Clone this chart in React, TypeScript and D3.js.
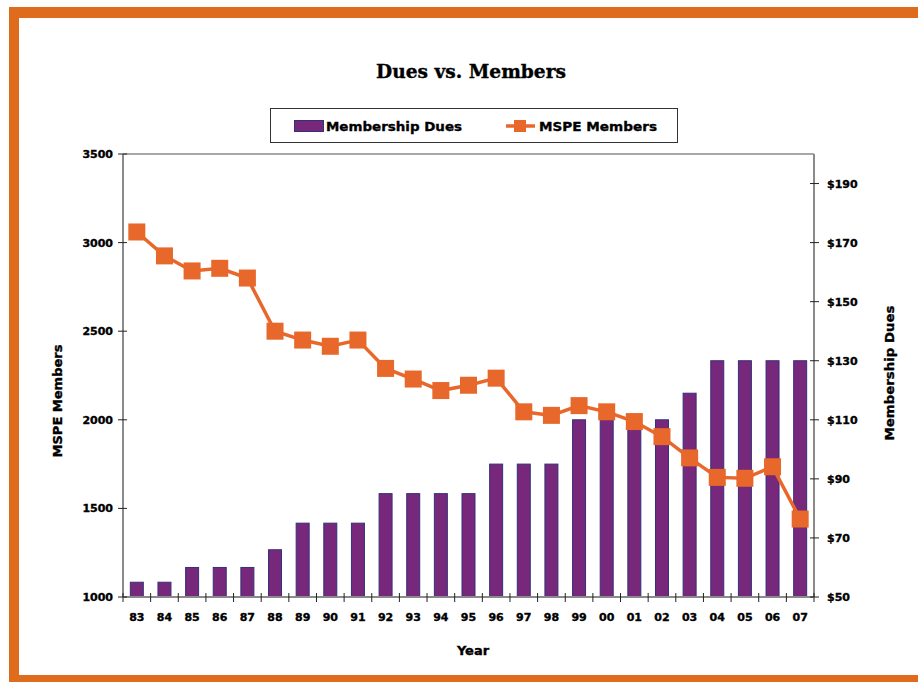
import React from "react";
import * as d3 from "d3";

const years = ["83","84","85","86","87","88","89","90","91","92","93","94","95","96","97","98","99","00","01","02","03","04","05","06","07"];
const duesValues = [55,55,60,60,60,66,75,75,75,85,85,85,85,95,95,95,110,110,110,110,119,130,130,130,130];
const memberValues = [3060,2925,2840,2855,2800,2500,2450,2415,2450,2290,2230,2165,2195,2235,2045,2025,2080,2045,1990,1905,1785,1675,1670,1735,1440];
const leftTicks = [1000,1500,2000,2500,3000,3500];
const rightTicks = [50,70,90,110,130,150,170,190];
const rightTickLabels = ["$50","$70","$90","$110","$130","$150","$170","$190"];

const W = 918, H = 682;
const L = 123, R = 814, T = 154, B = 597;
const ORANGE = "#DF6C1D";
const LINE = "#E8672A";
const PURPLE = "#77287A";
const BAR_STROKE = "#33307A";
const AXIS = "#8a8a8a";
const FONT = "'DejaVu Sans', sans-serif";
const heavy = { stroke: "#000", strokeWidth: 0.35 };

export default function App() {
  const x = d3.scaleBand<string>().domain(years).range([L, R]);
  const step = x.step();
  const barW = step * 0.47;
  const yL = d3.scaleLinear().domain([1000, 3500]).range([B, T]);
  const yR = d3.scaleLinear().domain([50, 200]).range([B, T]);
  const cx = (y: string) => (x(y) as number) + step / 2;
  const line = d3.line<number>().x((_, i) => cx(years[i])).y((d) => yL(d));

  return (
    <svg width={W} height={H} style={{ position: "absolute", left: 0, top: 0, background: "#fff" }}>
      <rect x={0} y={0} width={W} height={H} fill="#fff" />
      {/* orange frame */}
      <rect x={9} y={7} width={W - 9} height={11} fill={ORANGE} />
      <rect x={9} y={7} width={10} height={H - 7} fill={ORANGE} />
      <rect x={9} y={675} width={W - 9} height={7} fill={ORANGE} />

      {/* title */}
      <text x={471} y={78} textAnchor="middle" fontFamily="'DejaVu Serif', serif" fontWeight="bold" fontSize={18} textLength={190} lengthAdjust="spacingAndGlyphs" {...heavy}>Dues vs. Members</text>

      {/* legend */}
      <rect x={270.5} y={108.5} width={407} height={34} fill="#fff" stroke="#333" strokeWidth={1} />
      <rect x={294.5} y={120.5} width={29} height={11} fill={PURPLE} stroke={BAR_STROKE} strokeWidth={1} />
      <text x={326} y={131} fontFamily={FONT} fontWeight="bold" fontSize={13} textLength={136} lengthAdjust="spacingAndGlyphs" {...heavy}>Membership Dues</text>
      <line x1={506} x2={535} y1={126} y2={126} stroke={LINE} strokeWidth={3.5} />
      <rect x={514} y={120} width={12} height={12} fill={LINE} />
      <text x={539} y={131} fontFamily={FONT} fontWeight="bold" fontSize={13} textLength={118} lengthAdjust="spacingAndGlyphs" {...heavy}>MSPE Members</text>

      {/* bars */}
      {duesValues.map((v, i) => (
        <rect key={years[i]} x={cx(years[i]) - barW / 2} y={yR(v)} width={barW} height={B - yR(v)}
          fill={PURPLE} stroke={BAR_STROKE} strokeWidth={1} />
      ))}

      {/* plot border / axes */}
      <line x1={L} x2={R} y1={T} y2={T} stroke={AXIS} strokeWidth={1.5} />
      <line x1={L} x2={L} y1={T} y2={B} stroke={AXIS} strokeWidth={2} />
      <line x1={R} x2={R} y1={T} y2={B} stroke={AXIS} strokeWidth={2} />
      <line x1={L} x2={R} y1={B} y2={B} stroke={AXIS} strokeWidth={2} />

      {/* left ticks */}
      {leftTicks.map((t) => (
        <g key={t}>
          <line x1={L - 5} x2={L + 4} y1={yL(t)} y2={yL(t)} stroke="#222" strokeWidth={1} />
          <text x={113} y={yL(t) + 4} textAnchor="end" fontFamily={FONT} fontWeight="bold" fontSize={11} {...heavy}>{t}</text>
        </g>
      ))}
      {/* right ticks */}
      {rightTicks.map((t, i) => (
        <g key={t}>
          <line x1={R - 4} x2={R + 5} y1={yR(t)} y2={yR(t)} stroke="#222" strokeWidth={1} />
          <text x={827} y={yR(t) + 4} textAnchor="start" fontFamily={FONT} fontWeight="bold" fontSize={11} {...heavy}>{rightTickLabels[i]}</text>
        </g>
      ))}
      {/* x ticks */}
      {years.map((yv) => (
        <line key={"t" + yv} x1={x(yv) as number} x2={x(yv) as number} y1={B - 4} y2={B + 5} stroke="#222" strokeWidth={1} />
      ))}
      <line x1={R} x2={R} y1={B - 4} y2={B + 5} stroke="#222" strokeWidth={1} />
      {years.map((yv) => (
        <text key={"l" + yv} x={cx(yv)} y={621} textAnchor="middle" fontFamily={FONT} fontWeight="bold" fontSize={11} {...heavy}>{yv}</text>
      ))}

      {/* member line */}
      <path d={line(memberValues) || ""} fill="none" stroke={LINE} strokeWidth={3.5} />
      {memberValues.map((v, i) => (
        <rect key={"m" + i} x={cx(years[i]) - 8.5} y={yL(v) - 8.5} width={17} height={17} fill={LINE} />
      ))}

      {/* axis titles */}
      <text transform="translate(62,401) rotate(-90)" textAnchor="middle" fontFamily={FONT} fontWeight="bold" fontSize={13} textLength={113} lengthAdjust="spacingAndGlyphs" {...heavy}>MSPE Members</text>
      <text transform="translate(894,373) rotate(-90)" textAnchor="middle" fontFamily={FONT} fontWeight="bold" fontSize={13} textLength={135} lengthAdjust="spacingAndGlyphs" {...heavy}>Membership Dues</text>
      <text x={473} y={655} textAnchor="middle" fontFamily={FONT} fontWeight="bold" fontSize={13} {...heavy}>Year</text>
    </svg>
  );
}
